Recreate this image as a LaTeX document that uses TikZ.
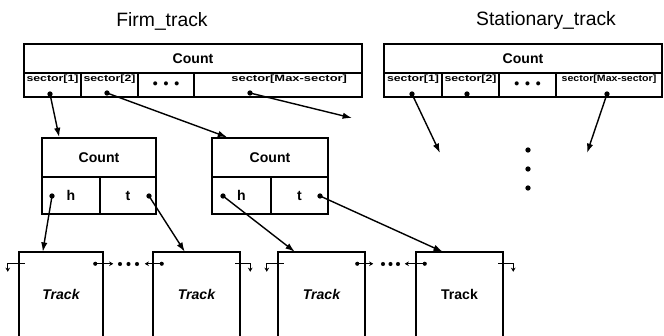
\documentclass[tikz,border=0pt]{standalone}
\usepackage{fontspec}
\setmainfont{Liberation Sans}
\usetikzlibrary{arrows.meta,calc}

\newcommand{\sect}[2][1]{\scalebox{#1}[0.75]{\fontsize{10.5}{10.5}\selectfont\bfseries #2}}

\begin{document}
\begin{tikzpicture}[x=0.03cm,y=0.03cm,
  box/.style={draw,line width=1.4pt,inner sep=0pt,font=\fontsize{12}{12}\selectfont\bfseries},
  cell/.style={box,minimum height=0.72cm,text height=0.1cm,text depth=0.3cm},
  ptr/.style={circle,fill,inner sep=0pt,minimum size=4.5pt},
  tinydot/.style={circle,fill,inner sep=0pt,minimum size=3.5pt},
  track/.style={inner sep=0pt,minimum height=2.52cm,font=\fontsize{12}{12}\selectfont\bfseries},
  link/.style={line width=1.2pt,-{Latex[length=8pt,width=5.5pt]}},
  small/.style={line width=0.9pt,-{Stealth[length=3.5pt,width=4pt]}}]
\useasboundingbox (0,0) rectangle (664,336);

\node[font=\fontsize{16.5}{16.5}\selectfont] (ftitle) at (162,315) {Firm\_track};
\node[font=\fontsize{16.5}{16.5}\selectfont] (stitle) at (546,315) {Stationary\_track};

% Firm_track sector table
\node[box,minimum width=10.14cm,minimum height=0.87cm] (fcount) at (193,277.5) {Count};
\node[cell,minimum width=1.71cm] (fs1) at (52.5,251) {\sect{sector[1]}};
\node[cell,minimum width=1.71cm] (fs2) at (109.5,251) {\sect{sector[2]}};
\node[box,minimum width=1.68cm,minimum height=0.72cm] (fdots) at (166,251) {\textbullet\hspace{5pt}\textbullet\hspace{5pt}\textbullet};
\node[cell,minimum width=5.04cm,text width=4.14cm,align=right] (fsmax) at (278,251) {\sect[1.05]{sector[Max-sector]}};

% Stationary_track sector table
\node[box,minimum width=8.34cm,minimum height=0.87cm] (scount) at (523,277.5) {Count};
\node[cell,minimum width=1.74cm] (ss1) at (413,251) {\sect{sector[1]}};
\node[cell,minimum width=1.71cm] (ss2) at (470.5,251) {\sect{sector[2]}};
\node[box,minimum width=1.71cm,minimum height=0.72cm] (sdots) at (527.5,251) {\textbullet\hspace{5pt}\textbullet\hspace{5pt}\textbullet};
\node[cell,minimum width=3.18cm] (ssmax) at (609,251) {\sect[0.86]{sector[Max-sector]}};

% count lists
\node[box,minimum width=3.42cm,minimum height=1.17cm] (lcount) at (99,178.5) {Count};
\node[box,minimum width=1.74cm,minimum height=1.11cm] (lh) at (71,140.5) {h};
\node[box,minimum width=1.68cm,minimum height=1.11cm] (lt) at (128,140.5) {t};
\node[box,minimum width=3.48cm,minimum height=1.17cm] (rcount) at (270,178.5) {Count};
\node[box,minimum width=1.77cm,minimum height=1.11cm] (rh) at (241.5,140.5) {h};
\node[box,minimum width=1.71cm,minimum height=1.11cm] (rt) at (299.5,140.5) {t};

% tracks
\node[track,minimum width=2.52cm] (t1) at (61,42) {\itshape Track};
\node[track,minimum width=2.61cm] (t2) at (196.5,42) {\itshape Track};
\node[track,minimum width=2.61cm] (t3) at (321.5,42) {\itshape Track};
\node[track,minimum width=2.61cm] (t4) at (459.5,42) {Track};
\foreach \t in {t1,t2,t3,t4}
  \draw[line width=1.4pt] (\t.south west) |- (\t.north east) -- (\t.south east);

% pointers
\node[ptr] (fs1p) at (50,242) {};
\node[ptr] (fs2p) at (107,243) {};
\node[ptr] (fsmaxp) at (250,243) {};
\node[ptr] (ss1p) at (412,242) {};
\node[ptr] (ss2p) at (467,242) {};
\node[ptr] (ssmaxp) at (607,242) {};
\node[ptr] (lhp) at (52,140) {};
\node[ptr] (ltp) at (149,140) {};
\node[ptr] (rhp) at (223,140) {};
\node[ptr] (rtp) at (320,140) {};
\coordinate (fend) at (352,218);
\coordinate (send1) at (440,183);
\coordinate (send2) at (587,183);

\draw[link] (fs1p.center) -- ($(lcount.north west)+(18,0)$);
\draw[link] (fs2p.center) -- ($(rcount.north west)+(16,0)$);
\draw[link] (fsmaxp.center) -- (fend);
\draw[link] (ss1p.center) -- (send1);
\draw[link] (ssmaxp.center) -- (send2);
\draw[link] (lhp.center) -- ($(t1.north west)+(24,0)$);
\draw[link] (ltp.center) -- ($(t2.north west)+(32,0)$);
\draw[link] (rhp.center) -- ($(t3.north west)+(17,0)$);
\draw[link] (rtp.center) -- ($(t4.north west)+(27,0)$);

\foreach \y [count=\i] in {186,167,148}
  \node[ptr] (vd\i) at (528,\y) {};

% links between tracks
\node[tinydot] (t1n) at ($(t1.north east)+(-8,-12)$) {};
\node[tinydot] (t2p) at ($(t2.north west)+(9,-12)$) {};
\node[tinydot] (t3n) at ($(t3.north east)+(-8,-12)$) {};
\node[tinydot] (t4p) at ($(t4.north west)+(9,-12)$) {};
\draw[small] (t1n.center) -- ++(18,0);
\draw[small] (t2p.center) -- ++(-17,0);
\draw[small] (t3n.center) -- ++(16,0);
\draw[small] (t4p.center) -- ++(-20,0);
\foreach \x in {120,128.5,137,383,390.5,398}
  \node[tinydot] at (\x,72) {};

% null ends
\draw[small] ($(t1.north west)+(6,-12)$) -| ++(-17,-8);
\draw[small] ($(t2.north east)+(-5,-12)$) -| ++(15,-8);
\draw[small] ($(t3.north west)+(6,-12)$) -| ++(-17,-8);
\draw[small] ($(t4.north east)+(-5,-12)$) -| ++(15,-8);
\end{tikzpicture}
\end{document}
